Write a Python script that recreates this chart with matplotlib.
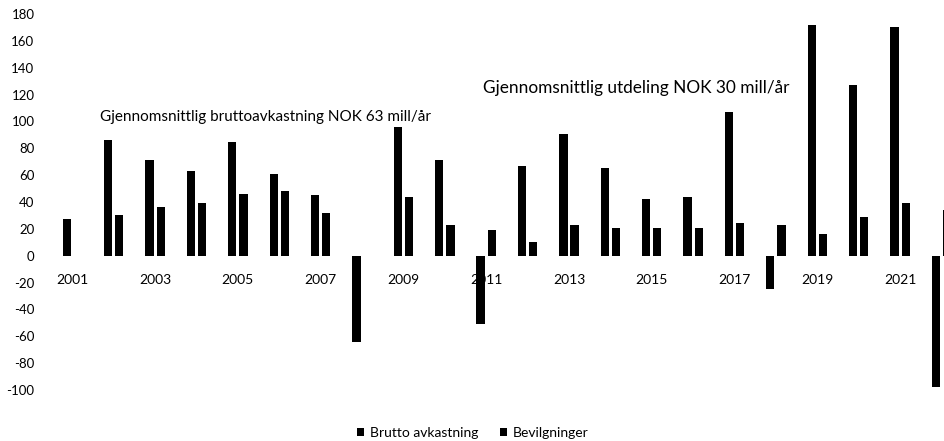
import matplotlib
matplotlib.use("Agg")
import matplotlib.pyplot as plt
import numpy as np

years = list(range(2001, 2023))
brutto = [27, 86, 71, 63, 85, 61, 45, -64, 96, 71, -51, 67, 91, 65, 42, 44, 107, -25, 172, 127, 170, -98]
bevilgninger = [0, 30, 36, 39, 46, 48, 32, 0, 44, 23, 19, 10, 23, 21, 21, 21, 24, 23, 16, 29, 39, 34]
tick_years = [str(y) for y in range(2001, 2022, 2)]
yticks = list(range(-100, 181, 20))

plt.rcParams['font.family'] = ['Lato', 'DejaVu Sans']

fig = plt.figure(figsize=(9.44, 4.41), dpi=100)
ax = fig.add_axes([40/944, 1-390/441, 1-40/944, (390-14)/441])

x = np.arange(len(years))
w = 0.2
off = 0.135
ax.bar(x - off, brutto, width=w, color='black', label='Brutto avkastning')
ax.bar(x + off, bevilgninger, width=w, color='black', label='Bevilgninger')

ax.set_ylim(-100, 180)
ax.set_xlim(-0.78, 21.06)
ax.set_yticks(yticks)
ax.set_yticklabels([str(v) for v in yticks], fontsize=9.5)
ax.set_xticks(np.arange(0, 21, 2))
ax.set_xticklabels(tick_years, fontsize=9.5)
ax.spines['bottom'].set_position(('data', 0))
for s in ax.spines.values():
    s.set_visible(False)
ax.tick_params(axis='both', length=0)
ax.tick_params(axis='x', pad=13)
ax.tick_params(axis='y', pad=4)

ax.text(0.67, 103, 'Gjennomsnittlig bruttoavkastning NOK 63 mill/år', fontsize=11, va='center', ha='left')
ax.text(9.93, 125, 'Gjennomsnittlig utdeling NOK 30 mill/år', fontsize=12.4, va='center', ha='left')

fig.legend(loc='center', bbox_to_anchor=(473/944, 1-433/441), ncol=2, frameon=False,
           fontsize=10, handlelength=0.5, handleheight=0.5, handletextpad=0.4, columnspacing=1.6)

fig.savefig('out.png', dpi=100)
